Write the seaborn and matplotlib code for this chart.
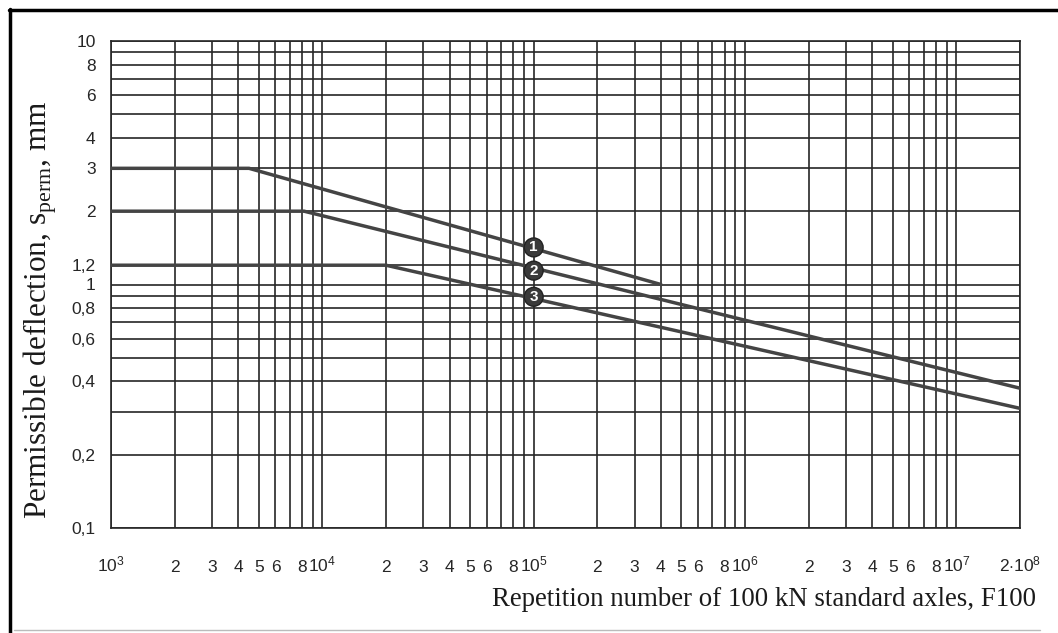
import numpy as np
import pandas as pd
import matplotlib
matplotlib.use("Agg")
import matplotlib.pyplot as plt
from matplotlib.lines import Line2D
from matplotlib.ticker import FixedLocator, FixedFormatter, NullLocator
import seaborn as sns

# break points of the three curves
# x = repetitions of 100 kN axles, y = permissible deflection in mm
curve1_x = [1e3, 4.5e3, 4.0e5]
curve1_y = [3.0, 3.0, 1.0]
curve2_x = [1e3, 8.2e3, 2e7]
curve2_y = [2.0, 2.0, 0.375]
curve3_x = [1e3, 2.0e4, 2e7]
curve3_y = [1.2, 1.2, 0.31]
curve_names = ["1", "2", "3"]

# circled curve numbers
marker_x = [1e5, 1e5, 1e5]
marker_y = [1.42, 1.14, 0.89]

x_ticks = [1e3, 2e3, 3e3, 4e3, 5e3, 6e3, 7e3, 8e3, 9e3,
           1e4, 2e4, 3e4, 4e4, 5e4, 6e4, 7e4, 8e4, 9e4,
           1e5, 2e5, 3e5, 4e5, 5e5, 6e5, 7e5, 8e5, 9e5,
           1e6, 2e6, 3e6, 4e6, 5e6, 6e6, 7e6, 8e6, 9e6,
           1e7, 2e7]
x_ticklabels = [r"$\mathsf{10^{3}}$", "2", "3", "4", "5", "6", "", "8", "",
                r"$\mathsf{10^{4}}$", "2", "3", "4", "5", "6", "", "8", "",
                r"$\mathsf{10^{5}}$", "2", "3", "4", "5", "6", "", "8", "",
                r"$\mathsf{10^{6}}$", "2", "3", "4", "5", "6", "", "8", "",
                r"$\mathsf{10^{7}}$", r"$\mathsf{2{\cdot}10^{8}}$"]

y_ticks = [0.1, 0.2, 0.3, 0.4, 0.5, 0.6, 0.7, 0.8, 0.9, 1.0, 1.2,
           2, 3, 4, 5, 6, 7, 8, 9, 10]
y_ticklabels = ["0,1", "0,2", "", "0,4", "", "0,6", "", "0,8", "", "1", "1,2",
                "2", "3", "4", "", "6", "", "8", "", "10"]

sns.set_style("white")
plt.rcParams["font.family"] = ["Liberation Sans", "DejaVu Sans"]
plt.rcParams["mathtext.fontset"] = "custom"
plt.rcParams["mathtext.rm"] = "Liberation Serif"
plt.rcParams["mathtext.sf"] = "Liberation Sans"

df = pd.concat([
    pd.DataFrame({"F100": curve1_x, "s_perm": curve1_y, "curve": curve_names[0]}),
    pd.DataFrame({"F100": curve2_x, "s_perm": curve2_y, "curve": curve_names[1]}),
    pd.DataFrame({"F100": curve3_x, "s_perm": curve3_y, "curve": curve_names[2]}),
])

W, H = 1058, 633
fig = plt.figure(figsize=(W / 100, H / 100), dpi=100)
ax = fig.add_axes([111 / W, 1 - 528 / H, (1020 - 111) / W, (528 - 41) / H])

gridc = "#262626"
ax.set_xscale("log")
ax.set_yscale("log")
ax.set_xlim(1e3, 2e7)
ax.set_ylim(0.1, 10)

sns.lineplot(data=df, x="F100", y="s_perm", hue="curve", units="curve",
             estimator=None, sort=False, palette=["#444444"] * 3,
             linewidth=2.5, legend=False, ax=ax, zorder=3)

ax.xaxis.set_major_locator(FixedLocator(x_ticks))
ax.xaxis.set_major_formatter(FixedFormatter(x_ticklabels))
ax.xaxis.set_minor_locator(NullLocator())
ax.yaxis.set_major_locator(FixedLocator(y_ticks))
ax.yaxis.set_major_formatter(FixedFormatter(y_ticklabels))
ax.yaxis.set_minor_locator(NullLocator())

ax.grid(True, which="major", color=gridc, linewidth=1.2)
ax.tick_params(axis="both", direction="out", length=8, width=1.2, color=gridc,
               labelcolor="#262626", labelsize=12.5)
# baseline-aligned x labels so the exponents stick up like in the print
ax.tick_params(axis="x", pad=23.5)
for lbl in ax.get_xticklabels():
    lbl.set_verticalalignment("baseline")
ax.tick_params(axis="y", pad=3)
for sp in ax.spines.values():
    sp.set_color(gridc)
    sp.set_linewidth(1.2)
ax.set_xlabel("")
ax.set_ylabel("")

for name, mx, my in zip(curve_names, marker_x, marker_y):
    ax.text(mx, my, name, ha="center", va="center", color="white",
            fontsize=11, fontweight="bold", zorder=5,
            bbox=dict(boxstyle="circle,pad=0.16", fc="#3a3a3a", ec="#222222", lw=1))

fig.text(40 / W, 1 - 310 / H, r"Permissible deflection, s$_{\mathrm{perm}}$, mm",
         rotation=90, ha="center", va="center", fontsize=22.5,
         family="Liberation Serif", color="#1a1a1a")
fig.text(1036 / W, 1 - 600 / H, "Repetition number of 100 kN standard axles, F100",
         ha="right", va="center", fontsize=19.4, family="Liberation Serif",
         color="#1a1a1a")

# scanned page frame
fig.add_artist(Line2D([10 / W, 10 / W], [0, 1 - 9 / H], transform=fig.transFigure,
                      color="black", linewidth=2.5))
fig.add_artist(Line2D([9 / W, 1], [1 - 10 / H, 1 - 10 / H], transform=fig.transFigure,
                      color="black", linewidth=2.5))
fig.add_artist(Line2D([14 / W, 1040 / W], [1 - 630 / H, 1 - 630 / H],
                      transform=fig.transFigure, color="#bbbbbb", linewidth=1))

fig.savefig("out.png", dpi=100)
